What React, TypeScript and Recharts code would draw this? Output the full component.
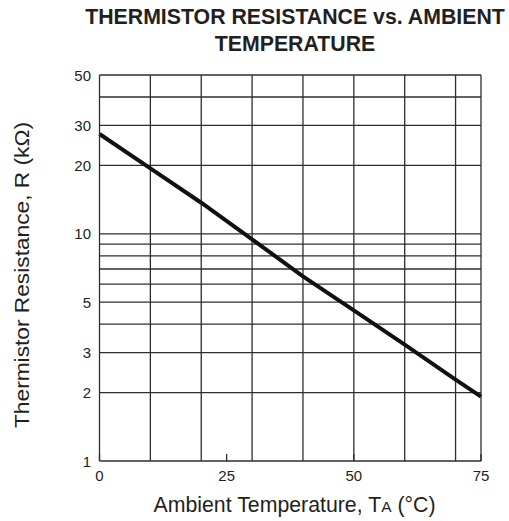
import React from 'react';
import { LineChart, Line, XAxis, YAxis, ReferenceLine } from 'recharts';

// Data
const temperatures = [0, 10, 20, 30, 40, 50, 60, 70, 75];
const resistanceK = [27.5, 19.4, 13.7, 9.45, 6.5, 4.6, 3.25, 2.28, 1.92];
const xTicks = [0, 25, 50, 75];
const yTicks = [1, 2, 3, 5, 10, 20, 30, 50];
const xGridValues = [10, 20, 30, 40, 50, 60, 70, 75];
const yGridValues = [2, 3, 4, 5, 6, 7, 8, 9, 10, 20, 30, 40, 50];

const titleLines = ['THERMISTOR RESISTANCE vs. AMBIENT', 'TEMPERATURE'];
const yLabel = 'Thermistor Resistance, R (kΩ)';

const data = temperatures.map((t, i) => ({ t, r: resistanceK[i] }));

const FONT = '"Liberation Sans", Arial, Helvetica, sans-serif';
const INK = '#231f20';
const GRID = '#2e2e2e';
const GW = 1.3;

const XTick = (props: any) => {
  const { x, y, payload } = props;
  return (
    <g>
      <line x1={x} x2={x} y1={y - 7} y2={y} stroke={GRID} strokeWidth={GW} />
      <text x={x} y={y + 20} textAnchor="middle" fontSize={15} fill={INK} fontFamily={FONT}>
        {payload.value}
      </text>
    </g>
  );
};

const YTick = (props: any) => {
  const { x, y, payload } = props;
  return (
    <text x={x} y={y + 5.5} textAnchor="end" fontSize={15} fill={INK} fontFamily={FONT}>
      {payload.value}
    </text>
  );
};

const YAxisLabel = () => (
  <text
    transform="translate(28.5, 275) rotate(-90)"
    textAnchor="middle"
    fontSize={21}
    fill={INK}
    fontFamily={FONT}
    textLength={306}
    lengthAdjust="spacingAndGlyphs"
  >
    {yLabel}
  </text>
);

const XAxisLabel = () => (
  <text x={294.5} y={511.5} textAnchor="middle" fontSize={21.3} fill={INK} fontFamily={FONT}>
    <tspan>Ambient Temperature, T</tspan>
    <tspan fontSize={15.5}>A</tspan>
    <tspan> (°C)</tspan>
  </text>
);

export default function App() {
  return (
    <div style={{ position: 'absolute', left: 0, top: 0, width: 509, height: 521, background: '#fff' }}>
      <div
        style={{
          position: 'absolute',
          left: 81,
          top: 3.5,
          width: 428,
          textAlign: 'center',
          fontFamily: FONT,
          fontWeight: 'bold',
          fontSize: 21.3,
          lineHeight: '27.5px',
          color: INK,
          whiteSpace: 'nowrap',
        }}
      >
        {titleLines.map((l) => (
          <div key={l}>{l}</div>
        ))}
      </div>
      <LineChart
        width={509}
        height={521}
        data={data}
        margin={{ top: 75, right: 28, left: 0, bottom: 0 }}
      >
        <XAxis
          dataKey="t"
          type="number"
          domain={[0, 75]}
          ticks={xTicks}
          interval={0}
          height={60}
          tickLine={false}
          tickSize={0}
          tickMargin={0}
          axisLine={{ stroke: GRID, strokeWidth: GW }}
          tick={XTick}
          label={<XAxisLabel />}
        />
        <YAxis
          type="number"
          scale="log"
          domain={[1, 50]}
          allowDataOverflow
          ticks={yTicks}
          interval={0}
          width={99.5}
          tickLine={false}
          tickSize={0}
          tickMargin={8.5}
          axisLine={{ stroke: GRID, strokeWidth: GW }}
          tick={YTick}
          label={<YAxisLabel />}
        />
        {yGridValues.map((v) => (
          <ReferenceLine key={'y' + v} y={v} stroke={GRID} strokeWidth={GW} />
        ))}
        {xGridValues.map((v) => (
          <ReferenceLine key={'x' + v} x={v} stroke={GRID} strokeWidth={GW} />
        ))}
        <Line
          type="linear"
          dataKey="r"
          stroke="#111"
          strokeWidth={4}
          dot={false}
          isAnimationActive={false}
        />
      </LineChart>
    </div>
  );
}
